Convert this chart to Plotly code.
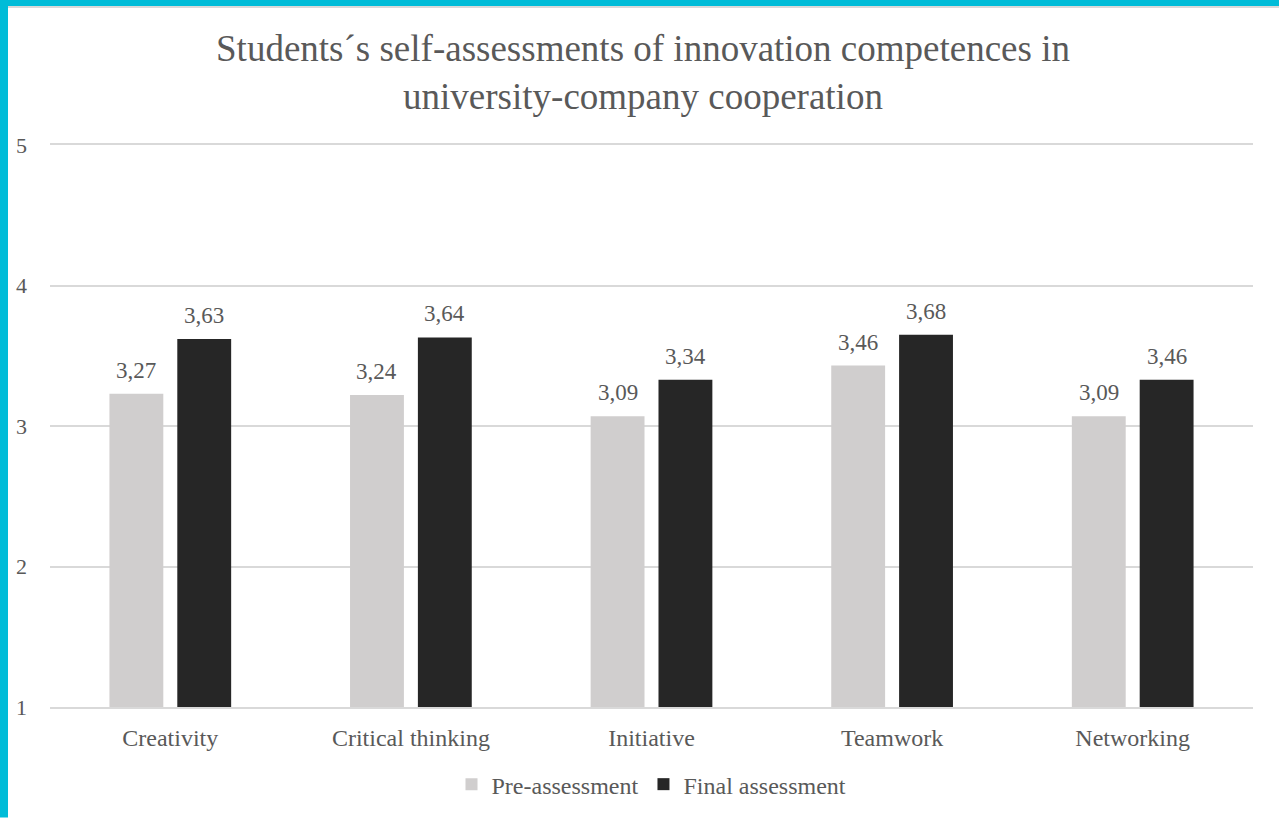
import plotly.graph_objects as go

categories = ["Creativity", "Critical thinking", "Initiative", "Teamwork", "Networking"]
pre_values = [3.23, 3.22, 3.07, 3.43, 3.07]
final_values = [3.62, 3.63, 3.33, 3.65, 3.33]
pre_labels = ["3,27", "3,24", "3,09", "3,46", "3,09"]
final_labels = ["3,63", "3,64", "3,34", "3,68", "3,46"]
y_ticks = [1, 2, 3, 4, 5]

FONT = "Liberation Serif"
TXT = "#595959"

fig = go.Figure()
fig.add_trace(go.Bar(
    name="Pre-assessment", x=categories, y=pre_values,
    marker=dict(color="#d0cece", line=dict(width=0)),
))
fig.add_trace(go.Bar(
    name="Final assessment", x=categories, y=final_values,
    marker=dict(color="#262626", line=dict(width=0)),
))

# value labels above each bar, placed from the data through the axes
for cat, val, lab in zip(categories, pre_values, pre_labels):
    fig.add_annotation(x=cat, y=val, text=lab, showarrow=False, xshift=-34,
                       yanchor="bottom", yshift=9,
                       font=dict(family=FONT, size=23, color=TXT))
for cat, val, lab in zip(categories, final_values, final_labels):
    fig.add_annotation(x=cat, y=val, text=lab, showarrow=False, xshift=34,
                       yanchor="bottom", yshift=9,
                       font=dict(family=FONT, size=23, color=TXT))

L, R, T, B = 50, 26, 145, 110
W, H = 1279, 819
pw = W - L - R
ph = H - T - B

def px(p):
    return (p - L) / pw

def py(p):
    return (H - B - p) / ph

fig.update_layout(
    width=W, height=H,
    margin=dict(l=L, r=R, t=T, b=B),
    paper_bgcolor="white", plot_bgcolor="white",
    barmode="group", bargap=0.436, bargroupgap=0.206,
    title=dict(
        text="Students´s self-assessments of innovation competences in<br>university-company cooperation",
        x=643 / W, xanchor="center", y=1 - 61 / H, yanchor="middle",
        font=dict(family=FONT, size=37, color=TXT),
    ),
    font=dict(family=FONT, color=TXT),
    xaxis=dict(
        showgrid=False, showline=True, mirror=True,
        linecolor="#d9d9d9", linewidth=1.5,
        ticks="", ticklabelstandoff=8,
        tickfont=dict(family=FONT, size=24, color=TXT),
    ),
    yaxis=dict(
        range=[1, 5], tickvals=y_ticks, ticktext=[str(v) for v in y_ticks],
        showgrid=True, gridcolor="#d9d9d9", gridwidth=1.5, zeroline=False,
        showline=False, ticks="", ticklabelstandoff=22,
        tickfont=dict(family=FONT, size=22, color=TXT),
    ),
    legend=dict(
        orientation="h", x=0.5, xanchor="center", y=-0.138, yanchor="middle",
        font=dict(family=FONT, size=24, color=TXT),
        itemwidth=30, traceorder="normal",
    ),
    showlegend=True,
    shapes=[
        dict(type="rect", xref="paper", yref="paper",
             x0=px(0), x1=px(W), y0=py(7.5), y1=py(5.5),
             fillcolor="#d9d9d9", line=dict(width=0), layer="above"),
        dict(type="rect", xref="paper", yref="paper",
             x0=px(0), x1=px(W), y0=py(5.5), y1=py(-1),
             fillcolor="#00bcd8", line=dict(width=0), layer="above"),
        dict(type="rect", xref="paper", yref="paper",
             x0=px(-1), x1=px(8), y0=py(H + 1), y1=py(-1),
             fillcolor="#00bcd8", line=dict(width=0), layer="above"),
    ],
)

fig.write_html("out.html",
               config={"displayModeBar": False},
               post_script="document.body.style.margin='0';document.body.style.overflow='hidden';")
